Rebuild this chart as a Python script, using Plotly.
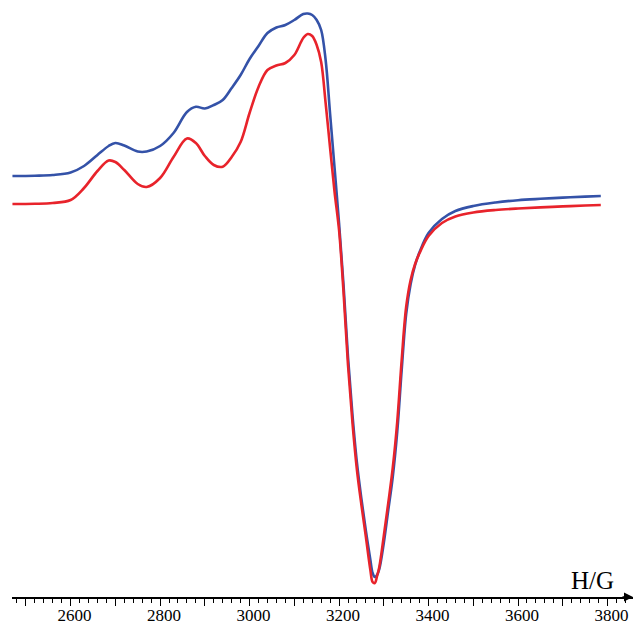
import plotly.graph_objects as go

# Magnetic field (G)
field = [2470, 2520, 2560, 2600, 2630, 2660, 2685, 2700, 2720, 2750, 2770, 2800,
         2830, 2860, 2880, 2900, 2920, 2940, 2960, 2980, 3000, 3020, 3040, 3060,
         3080, 3100, 3120, 3130, 3140, 3150, 3160, 3170, 3180, 3190, 3200, 3210,
         3220, 3230, 3240, 3250, 3260, 3270, 3275, 3280, 3285, 3290, 3300, 3310,
         3320, 3330, 3340, 3350, 3360, 3370, 3380, 3400, 3430, 3460, 3500, 3550,
         3600, 3650, 3700, 3750, 3785]

# EPR derivative intensity (a.u.), blue spectrum
blue = [2.4, 2.43, 2.5, 2.75, 3.4, 4.5, 5.4, 5.7, 5.45, 4.85, 4.85, 5.4,
        6.7, 8.8, 9.32, 9.15, 9.5, 10.0, 11.2, 12.5, 14.1, 15.4, 16.7, 17.25,
        17.5, 18.0, 18.6, 18.65, 18.5, 18.0, 17.0, 14.0, 8.6, 3.2, -2.3, -8.5,
        -15.7, -21.5, -26.3, -29.9, -33.1, -36.0, -37.3, -37.7, -37.5, -36.9, -34.3, -31.0,
        -27.7, -23.2, -17.0, -11.4, -8.4, -6.5, -5.2, -3.3, -1.9, -1.1, -0.6, -0.25,
        -0.02, 0.12, 0.24, 0.34, 0.4]

# EPR derivative intensity (a.u.), red spectrum
red = [-0.4, -0.38, -0.3, 0.0, 1.2, 2.9, 3.95, 3.8, 3.0, 1.6, 1.3, 2.2,
       4.3, 6.15, 5.7, 4.4, 3.5, 3.33, 4.3, 5.8, 8.7, 11.3, 13.0, 13.45,
       13.7, 14.5, 16.2, 16.6, 16.4, 15.5, 13.8, 9.7, 5.2, 0.8, -3.0, -9.2,
       -16.5, -22.3, -27.0, -30.5, -33.7, -37.0, -38.2, -38.3, -37.6, -36.7, -33.6, -30.3,
       -26.8, -22.2, -16.0, -10.7, -8.0, -6.4, -5.3, -3.6, -2.3, -1.65, -1.25, -1.0,
       -0.85, -0.74, -0.64, -0.55, -0.5]

tick_vals = [2500, 2600, 2700, 2800, 2900, 3000, 3100, 3200, 3300, 3400, 3500, 3600, 3700, 3800]
tick_text = ["", "2600", "", "2800", "", "3000", "", "3200", "", "3400", "", "3600", "", "3800"]

fig = go.Figure()
fig.add_trace(go.Scatter(x=field, y=blue, mode="lines",
                         line=dict(color="#3452a8", width=2.6, shape="spline", smoothing=1.0),
                         showlegend=False, hoverinfo="skip"))
fig.add_trace(go.Scatter(x=field, y=red, mode="lines",
                         line=dict(color="#e8232b", width=2.6, shape="spline", smoothing=1.0),
                         showlegend=False, hoverinfo="skip"))

fig.update_layout(
    width=636, height=624,
    margin=dict(l=12, r=3, t=0, b=27, autoexpand=False),
    paper_bgcolor="white", plot_bgcolor="white",
    font=dict(family="Liberation Serif", color="black"),
    xaxis=dict(range=[2469, 3857], showgrid=False, zeroline=False, automargin=False,
               showline=True, linecolor="black", linewidth=2,
               tickmode="array", tickvals=tick_vals, ticktext=tick_text,
               ticks="outside", ticklen=7, tickwidth=1.2, tickcolor="black",
               ticklabelshift=4, ticklabelstandoff=-5,
               tickfont=dict(family="Liberation Serif", size=17, color="black"),
               minor=dict(ticks="outside", dtick=20, tick0=2600, ticklen=4,
                          tickwidth=1, tickcolor="black"),
               fixedrange=True),
    yaxis=dict(range=[-39.7, 20.0], visible=False, showgrid=False, zeroline=False,
               automargin=False, fixedrange=True),
)

fig.add_annotation(x=1.0, y=0, xref="paper", yref="paper", ax=-12, ay=0,
                   axref="pixel", ayref="pixel", text="", showarrow=True,
                   arrowhead=2, arrowsize=1.2, arrowwidth=1.5, arrowcolor="black")
fig.add_annotation(x=3767, y=-38.0, xref="x", yref="y", text="H/G", showarrow=False,
                   font=dict(family="Liberation Serif", size=25, color="black"),
                   xanchor="center", yanchor="middle")

fig.write_html("out.html", config={"displayModeBar": False},
               post_script="document.body.style.margin='0';document.body.style.padding='0';document.body.style.overflow='hidden';")
